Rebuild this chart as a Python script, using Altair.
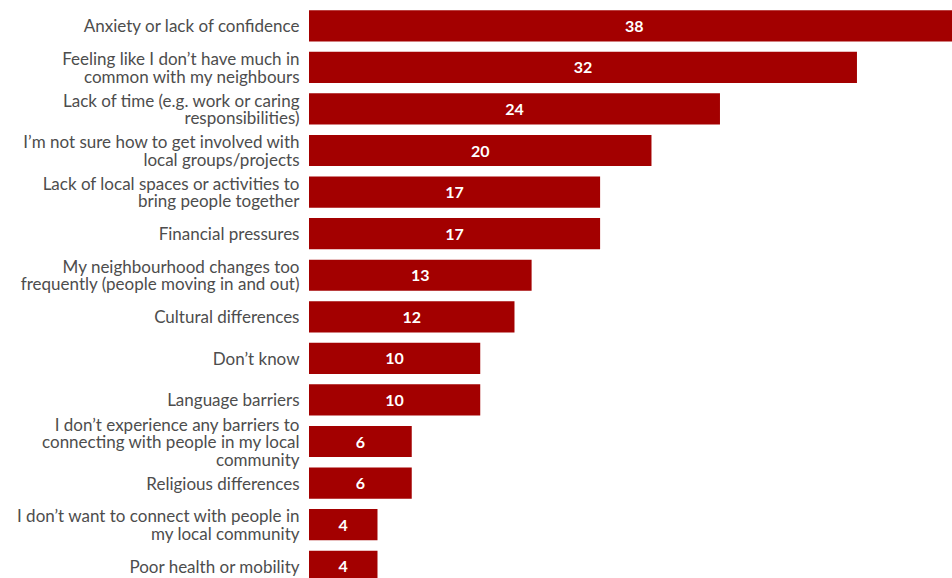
import altair as alt
import pandas as pd

categories = [
    "Anxiety or lack of confidence",
    "Feeling like I don’t have much in|common with my neighbours",
    "Lack of time (e.g. work or caring|responsibilities)",
    "I’m not sure how to get involved with|local groups/projects",
    "Lack of local spaces or activities to|bring people together",
    "Financial pressures",
    "My neighbourhood changes too|frequently (people moving in and out)",
    "Cultural differences",
    "Don’t know",
    "Language barriers",
    "I don’t experience any barriers to|connecting with people in my local|community",
    "Religious differences",
    "I don’t want to connect with people in|my local community",
    "Poor health or mobility",
]
values = [38, 32, 24, 20, 17, 17, 13, 12, 10, 10, 6, 6, 4, 4]

df = pd.DataFrame({"cat": categories, "val": values})

FONT = "Lato"
RED = "#a30000"
LH = 17.5
SHIFT = 1.5

y = alt.Y(
    "cat:N",
    sort=categories,
    title=None,
    scale=alt.Scale(range=[5, 587], paddingInner=0.25, paddingOuter=0.125),
    axis=alt.Axis(
        labelExpr="split(datum.label, '|')",
        labelFont=FONT,
        labelFontSize=17,
        labelColor="#4d4d4d",
        labelLineHeight=LH,
        labelPadding=10,
        labelLimit=400,
        labelOffset={
            "condition": [
                {"test": "length(split(datum.label, '|')) >= 3", "value": -LH + SHIFT},
                {"test": "length(split(datum.label, '|')) == 2", "value": -LH / 2 + SHIFT},
            ],
            "value": SHIFT,
        },
        ticks=False,
        domain=False,
        grid=False,
    ),
)
x = alt.X(
    "val:Q",
    title=None,
    scale=alt.Scale(domain=[0, 37.55], nice=False),
    axis=None,
)

bars = alt.Chart(df).mark_bar(color=RED, clip=True).encode(x=x, y=y)

labels = alt.Chart(df).transform_calculate(mid="datum.val / 2").mark_text(
    color="white", font=FONT, fontSize=16, fontWeight="bold", align="center", baseline="middle", dy=1
).encode(
    x=alt.X("mid:Q", scale=alt.Scale(domain=[0, 37.55], nice=False), axis=None),
    y=alt.Y("cat:N", sort=categories),
    text=alt.Text("val:Q"),
)

chart = (
    alt.layer(bars, labels)
    .properties(
        width=643,
        height=578,
        autosize=alt.AutoSizeParams(type="none"),
        padding={"left": 309, "top": 0, "right": 0, "bottom": 0},
        background="white",
    )
    .configure_view(stroke=None)
)

chart.save("out.html", embed_options={"renderer": "svg", "actions": False})
